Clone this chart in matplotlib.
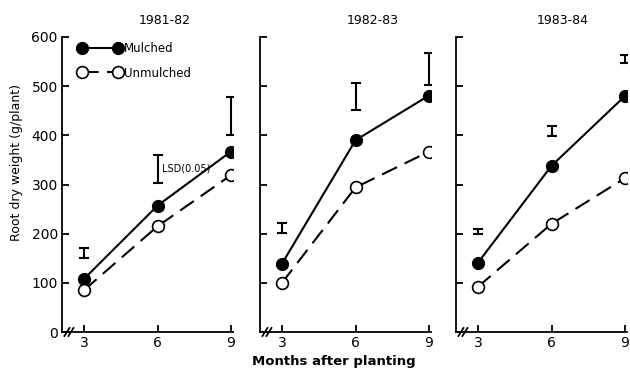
import numpy as np
import matplotlib.pyplot as plt

plt.rcParams['font.family'] = ['DejaVu Sans']

months = [3, 6, 9]
seasons = ['1981-82', '1982-83', '1983-84']

# root dry weight (g/plant)
mulched = [[108, 257, 367],
           [139, 390, 481],
           [141, 338, 480]]
unmulched = [[85, 215, 319],
             [100, 294, 367],
             [92, 220, 313]]

# LSD(0.05) bars: centre and half length
lsd_mid = [[161, 331, 439],
           [212, 479, 535],
           [205, 408, 555]]
lsd_half = [[10, 28, 38],
            [10, 27, 32],
            [5, 10, 8]]

W, H = 630, 372
fig = plt.figure(figsize=(6.3, 3.72), dpi=100)

x3_pix = [84, 282, 478]   # pixel position of month 3 in each panel
pxm = 24.5                # pixels per month
y0, y600 = 332, 37

axes = []
for i in range(3):
    left = x3_pix[i] - 0.9 * pxm
    ax = fig.add_axes([left / W, (H - y0) / H, 7.0 * pxm / W, (y0 - y600) / H])
    ax.set_xlim(2.1, 9.1)
    ax.set_ylim(0, 600)
    ax.spines['top'].set_visible(False)
    ax.spines['right'].set_visible(False)
    for s in ['left', 'bottom']:
        ax.spines[s].set_linewidth(1.3)
    ax.set_xticks(months)
    ax.set_xticklabels(['3', '6', '9'], fontsize=10)
    ax.set_yticks([0, 100, 200, 300, 400, 500, 600])
    ax.tick_params(direction='in', length=5, width=1.3, pad=3)
    if i == 0:
        ax.set_yticklabels(['0', '100', '200', '300', '400', '500', '600'], fontsize=10)
    else:
        ax.set_yticklabels([])
    ax.patch.set_alpha(0)

    ax.plot(months, mulched[i], '-', color='black', lw=1.5, marker='o',
            ms=8.5, mfc='black', mec='black', label='Mulched', zorder=3)
    ax.plot(months, unmulched[i], '-', color='black', lw=1.5, marker='o',
            ms=8.5, mfc='white', mec='black', mew=1.2, dashes=(8, 4),
            label='Unmulched', zorder=3)
    ax.errorbar(months, lsd_mid[i], yerr=lsd_half[i], fmt='none',
                ecolor='black', elinewidth=1.5, capsize=3.5, capthick=1.5)

    # axis break marks
    for dx in [5, 9]:
        ax.plot([(dx - 2.5) / (7.0 * pxm), (dx + 2.5) / (7.0 * pxm)],
                [-4 / (y0 - y600), 4 / (y0 - y600)], color='black', lw=1.3,
                transform=ax.transAxes, clip_on=False)
    axes.append(ax)

title_x = [165, 373, 563]
for i in range(3):
    fig.text(title_x[i] / W, 1 - 20 / H, seasons[i], ha='center', va='center', fontsize=9)

axes[0].legend(loc='upper left', bbox_to_anchor=(0.05, 1.01), numpoints=2,
               frameon=False, fontsize=8.5, handlelength=3.6, handletextpad=0.2,
               labelspacing=0.95, borderaxespad=0.3)
axes[0].text(6.2, 333, 'LSD(0.05)', fontsize=7, va='center', ha='left')

fig.text(17 / W, 1 - 162 / H, 'Root dry weight (g/plant)', rotation=90,
         ha='center', va='center', fontsize=9)
fig.text(334 / W, 1 - 362 / H, 'Months after planting', ha='center', va='center',
         fontsize=9.5, fontweight='bold')

fig.savefig('out.png', dpi=100)
